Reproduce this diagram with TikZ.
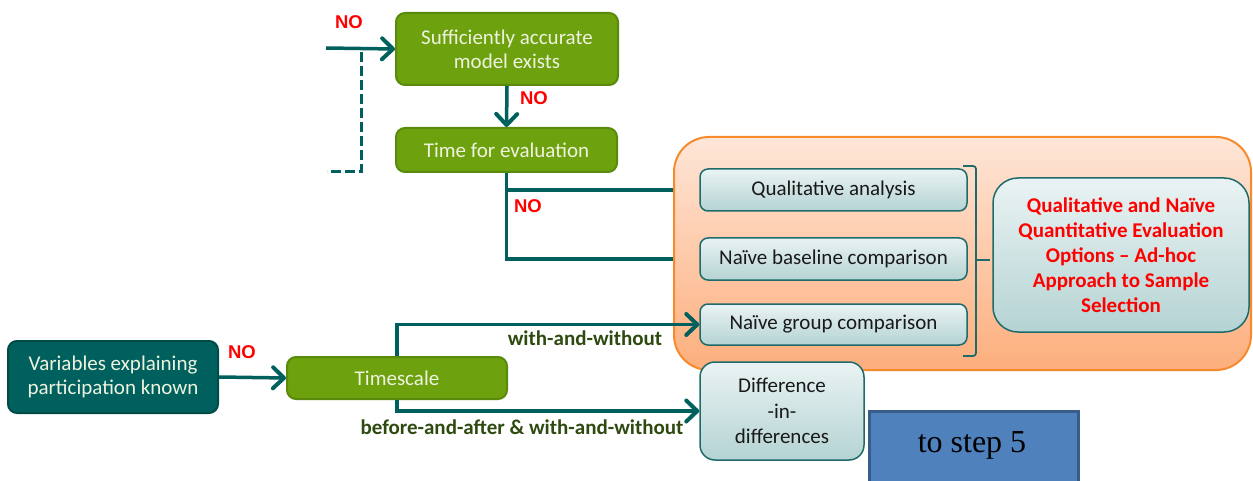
\documentclass[tikz,border=0pt]{standalone}
\usepackage{fontspec}
\setmainfont{Carlito}
\newfontfamily\nofont{Liberation Sans}
\newfontfamily\timesf{Liberation Serif}
\usetikzlibrary{arrows.meta,calc}
\definecolor{tealc}{HTML}{00605E}
\definecolor{greenf}{HTML}{6EA10E}
\definecolor{greend}{HTML}{5A8A0B}
\definecolor{greent}{HTML}{EEF3DF}
\definecolor{orangeb}{HTML}{F68A2D}
\definecolor{orangetop}{HTML}{FEE6D8}
\definecolor{orangebot}{HTML}{FDAE7C}
\definecolor{tealtop}{HTML}{EAF3F3}
\definecolor{tealbot}{HTML}{B5D3D3}
\definecolor{tealb}{HTML}{1F6B6B}
\definecolor{labg}{HTML}{2F4A10}
\definecolor{bluef}{HTML}{4F81BD}
\definecolor{blueb}{HTML}{385D8A}
\definecolor{varsb}{HTML}{004B48}
\tikzset{
  greenbox/.style={draw=greend, line width=2pt, fill=greenf, rounded corners=9pt,
    text=greent, align=center, inner sep=0pt, font=\fontsize{21}{24}\selectfont},
  tealbox/.style={draw=tealb, line width=1.5pt, top color=tealtop, bottom color=tealbot,
    rounded corners=8pt, align=center, inner sep=0pt, text=black!90,
    font=\fontsize{21}{24}\selectfont},
  conn/.style={draw=tealc, line width=3.5pt},
  arr/.style={conn, -{Straight Barb[length=11pt,width=21pt,line width=4pt,round]}},
  nolab/.style={text=red, font=\nofont\bfseries\fontsize{18.5}{20}\selectfont},
  edgelab/.style={text=labg, font=\bfseries\fontsize{21}{24}\selectfont}
}
\begin{document}
\begin{tikzpicture}[x=1pt,y=-1pt]
\useasboundingbox (0,0) rectangle (1253,481);
% orange container
\node[draw=orangeb, line width=2pt, top color=orangetop, bottom color=orangebot,
  rounded corners=35pt, minimum width=577pt, minimum height=233pt, inner sep=0pt]
  (orange) at (962.5,253.5) {};
% green boxes
\node[greenbox, minimum width=222pt, minimum height=72pt] (suff) at (507,49)
  {Sufficiently accurate\\model exists};
\node[greenbox, minimum width=221pt, minimum height=44pt] (time) at (506.5,150)
  {Time for evaluation};
\node[greenbox, fill=tealc, draw=varsb, minimum width=210pt, minimum height=72pt] (vars) at (113,377)
  {Variables explaining\\participation known};
\node[greenbox, minimum width=220pt, minimum height=42pt] (tscale) at (397,378)
  {Timescale};
% teal boxes
\node[tealbox, minimum width=267pt, minimum height=42pt] (qual) at (833.5,190) {Qualitative analysis};
\node[tealbox, minimum width=267pt, minimum height=42pt] (base) at (833.5,259) {Naïve baseline comparison};
\node[tealbox, minimum width=267pt, minimum height=41pt] (group) at (833.5,324.5) {Naïve group comparison};
\node[tealbox, minimum width=256pt, minimum height=154pt, rounded corners=25pt, text=red,
  font=\bfseries\fontsize{21}{25}\selectfont] (opt) at (1121,255)
  {Qualitative and Naïve\\Quantitative Evaluation\\Options – Ad-hoc\\Approach to Sample\\Selection};
\node[tealbox, minimum width=164pt, minimum height=98pt, rounded corners=15pt,
  font=\fontsize{21}{25.5}\selectfont] (diff) at (782,411)
  {Difference\\-in-\\differences};
% to step 5
\node[draw=blueb, line width=2.5pt, fill=bluef, minimum width=209pt, minimum height=80pt,
  inner sep=0pt, anchor=north west] (step) at (868,410) {};
\node[font=\timesf\fontsize{32}{36}\selectfont] (steptext) at (972,445) {to step 5};
% bracket
\coordinate (bt) at (963,166);
\coordinate (bb) at (963,356);
\coordinate (bm) at (990,260);
\draw[draw=tealb, line width=1.8pt, rounded corners=3pt]
  (bt) -- (976,166) -- (976,356) -- (bb);
\draw[draw=tealb, line width=1.8pt] (976,260) -- (bm);
% top-left connectors
\coordinate (inL) at (326,48);
\coordinate (dtop) at (361,52);
\coordinate (dcor) at (361,172);
\coordinate (dend) at (327,172);
\draw[arr] (inL) -- (suff.west);
\draw[draw=tealc, line width=3pt, dash pattern=on 10pt off 4pt] (dtop) -- (dcor) -- (dend);
\draw[arr] (suff.south) -- (time.north);
\draw[conn] (time.south) |- (qual.west -| orange.west);
\draw[conn] (time.south) |- (base.west -| orange.west);
\draw[arr] (vars.east) -- (tscale.west);
\draw[arr] (tscale.north) |- (group.west);
\draw[arr] (tscale.south) |- (diff.west);
% labels
\node[nolab] (no1) at (349,22) {NO};
\node[nolab] (no2) at (534,98) {NO};
\node[nolab] (no3) at (528,206) {NO};
\node[nolab] (no4) at (242,352) {NO};
\node[edgelab] (lab1) at (585,338) {with-and-without};
\node[edgelab] (lab2) at (522,427) {before-and-after \& with-and-without};
\end{tikzpicture}
\end{document}
